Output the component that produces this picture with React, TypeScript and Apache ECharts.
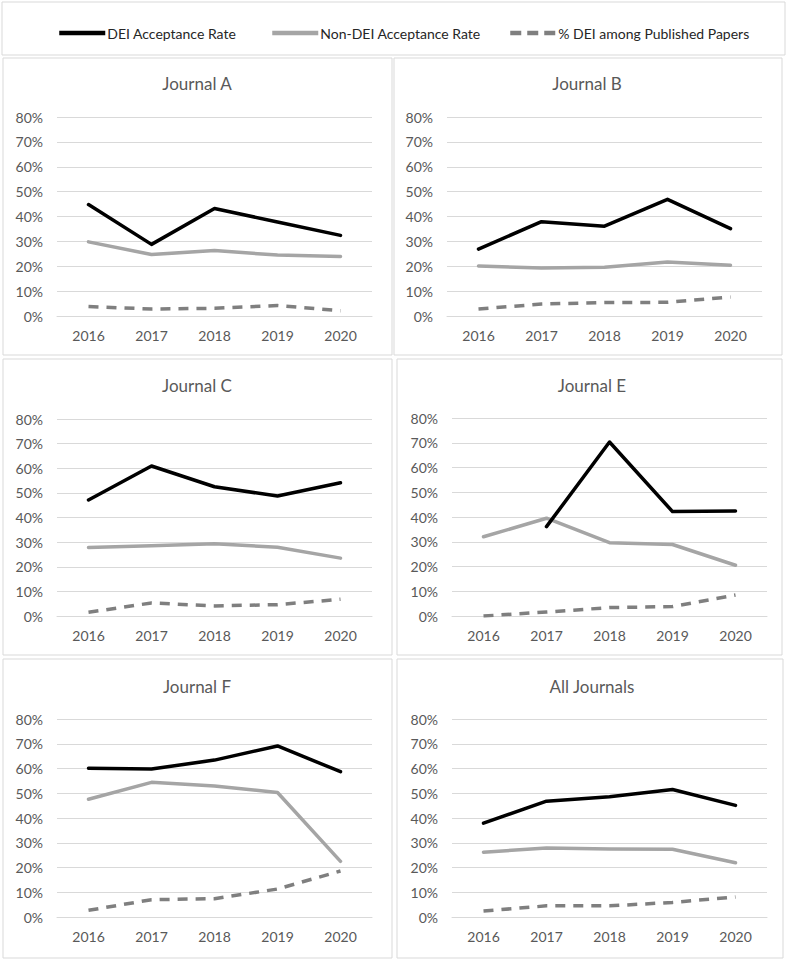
import React, { useEffect, useRef } from "react";
import * as echarts from "echarts";

const years = ["2016", "2017", "2018", "2019", "2020"];
const titles = ["Journal A", "Journal B", "Journal C", "Journal E", "Journal F", "All Journals"];
const seriesNames = ["DEI Acceptance Rate", "Non-DEI Acceptance Rate", "% DEI among Published Papers"];

// values in percent
const deiA = [44.8, 28.8, 43.2, 37.8, 32.4];
const nonDeiA = [29.8, 24.7, 26.3, 24.5, 23.9];
const pctA = [3.8, 2.8, 3.1, 4.2, 2.1];

const deiB = [26.9, 37.9, 36.1, 46.9, 35.1];
const nonDeiB = [20.1, 19.3, 19.6, 21.7, 20.4];
const pctB = [2.8, 4.8, 5.4, 5.5, 7.6];

const deiC = [47.1, 60.9, 52.5, 48.7, 54.1];
const nonDeiC = [27.8, 28.5, 29.3, 27.9, 23.5];
const pctC = [1.5, 5.3, 4.1, 4.6, 6.8];

const deiE = [null, 36.1, 70.3, 42.2, 42.4];
const nonDeiE = [32.0, 39.5, 29.6, 28.9, 20.5];
const pctE = [0.0, 1.6, 3.4, 3.8, 8.5];

const deiF = [60.1, 59.8, 63.4, 69.1, 58.7];
const nonDeiF = [47.6, 54.4, 52.9, 50.3, 22.5];
const pctF = [2.7, 7.0, 7.4, 11.3, 18.6];

const deiAll = [37.9, 46.8, 48.6, 51.5, 45.1];
const nonDeiAll = [26.2, 27.9, 27.5, 27.4, 21.9];
const pctAll = [2.4, 4.5, 4.5, 5.9, 8.1];

const panelData = [
  [deiA, nonDeiA, pctA],
  [deiB, nonDeiB, pctB],
  [deiC, nonDeiC, pctC],
  [deiE, nonDeiE, pctE],
  [deiF, nonDeiF, pctF],
  [deiAll, nonDeiAll, pctAll],
];

const FONT = "Lato, 'Open Sans', sans-serif";
const TEXT = "#595959";
const GRID_LINE = "#d9d9d9";
const BORDER = "#d9d9d9";

const W = 789;
const H = 961;

// layout (pixels)
const grids = [
  { left: 57, top: 117, width: 315, height: 199 },
  { left: 447, top: 117, width: 315, height: 199 },
  { left: 57, top: 419, width: 315, height: 197 },
  { left: 452, top: 418, width: 315, height: 198 },
  { left: 57, top: 719, width: 315, height: 198 },
  { left: 452, top: 719, width: 315, height: 198 },
];
const boxes = [
  { x: 3, y: 58, w: 389, h: 297 },
  { x: 394, y: 58, w: 388, h: 297 },
  { x: 3, y: 359, w: 389, h: 296 },
  { x: 397, y: 359, w: 385, h: 296 },
  { x: 3, y: 659, w: 389, h: 299 },
  { x: 397, y: 659, w: 386, h: 299 },
];
const titlePos = [
  { x: 197, y: 83 },
  { x: 587, y: 83 },
  { x: 197, y: 385 },
  { x: 592, y: 385 },
  { x: 197, y: 686 },
  { x: 592, y: 686 },
];

const lineStyles = [
  { color: "#000000", width: 3.5, type: "solid" as any },
  { color: "#a5a5a5", width: 3.5, type: "solid" as any },
  { color: "#7f7f7f", width: 3.5, type: [10, 8] as any },
];

export default function App() {
  const ref = useRef<HTMLDivElement>(null);

  useEffect(() => {
    if (!ref.current) return;
    const chart = echarts.init(ref.current, null, { renderer: "svg" });

    const graphic: any[] = [];
    graphic.push({
      type: "rect",
      shape: { x: 2, y: 2, width: 783, height: 53 },
      style: { fill: "#fff", stroke: BORDER, lineWidth: 1 },
      z: -10,
    });
    boxes.forEach((b) => {
      graphic.push({
        type: "rect",
        shape: { x: b.x, y: b.y, width: b.w, height: b.h },
        style: { fill: "#fff", stroke: BORDER, lineWidth: 1 },
        z: -10,
      });
    });
    titles.forEach((t, i) => {
      graphic.push({
        type: "text",
        x: titlePos[i].x,
        y: titlePos[i].y,
        style: {
          text: t,
          fill: TEXT,
          font: `17px ${FONT}`,
          textAlign: "center",
          textVerticalAlign: "middle",
        },
      });
    });

    const grid: any[] = grids.map((g) => ({ ...g, containLabel: false }));
    const xAxis: any[] = grids.map((_, i) => ({
      type: "category",
      gridIndex: i,
      data: years,
      boundaryGap: true,
      axisLine: { show: true, lineStyle: { color: GRID_LINE, width: 1 } },
      axisTick: { show: false },
      axisLabel: { color: TEXT, fontFamily: FONT, fontSize: 14, margin: 12 },
    }));
    const yAxis: any[] = grids.map((_, i) => ({
      type: "value",
      gridIndex: i,
      min: 0,
      max: 80,
      interval: 10,
      axisLine: { show: false },
      axisTick: { show: false },
      splitLine: { show: true, lineStyle: { color: GRID_LINE, width: 1 } },
      axisLabel: {
        color: TEXT,
        fontFamily: FONT,
        fontSize: 14,
        margin: 14,
        formatter: "{value}%",
      },
    }));

    const series: any[] = [];
    panelData.forEach((arrs, gi) => {
      arrs.forEach((arr, si) => {
        series.push({
          name: seriesNames[si],
          type: "line",
          xAxisIndex: gi,
          yAxisIndex: gi,
          data: arr,
          symbol: "none",
          showSymbol: false,
          connectNulls: false,
          lineStyle: { ...lineStyles[si], cap: si === 2 ? "butt" : "round", join: "round" },
          itemStyle: { color: lineStyles[si].color },
          z: 10 - si,
        });
      });
    });

    const legendLefts = [52, 265, 503];
    const legend: any[] = seriesNames.map((n, i) => ({
      data: [n],
      left: legendLefts[i],
      top: 21,
      itemWidth: 46,
      itemHeight: 14,
      itemGap: 0,
      selectedMode: false,
      itemStyle: { opacity: 0 },
      lineStyle: { width: 4.5, type: i === 2 ? [11, 6] : "solid", cap: "butt" },
      textStyle: { color: "#262626", fontFamily: FONT, fontSize: 14, padding: [0, 0, 0, -3] },
    }));

    chart.setOption({
      animation: false,
      backgroundColor: "#ffffff",
      legend,
      grid,
      xAxis,
      yAxis,
      series,
      graphic,
    });

    return () => chart.dispose();
  }, []);

  return (
    <div
      ref={ref}
      style={{ position: "absolute", left: 0, top: 0, width: W, height: H, background: "#fff" }}
    />
  );
}
